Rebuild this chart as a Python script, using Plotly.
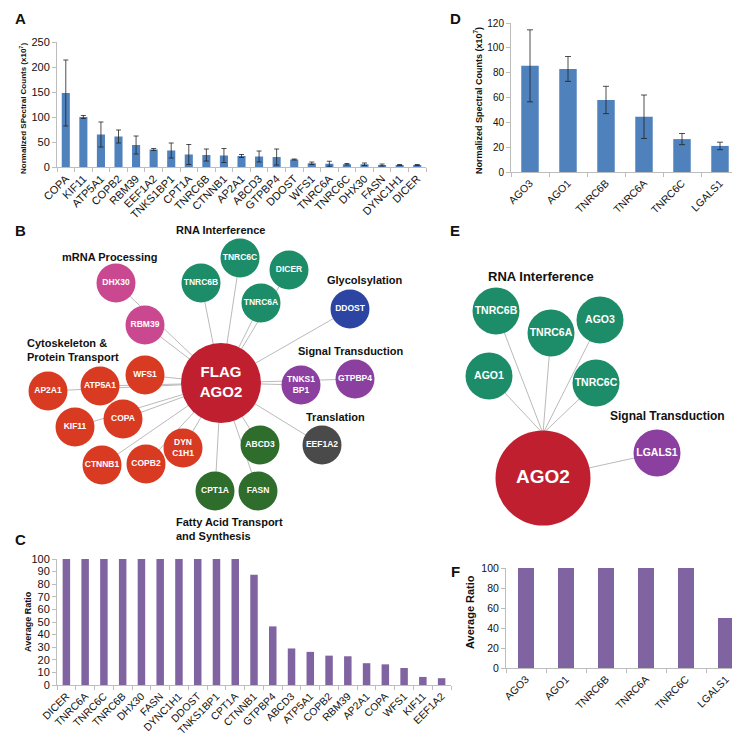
import plotly.graph_objects as go

W = H = 740
FONT = "Liberation Sans"

# ---------------- Panel A data ----------------
a_genes = ["COPA", "KIF11", "ATP5A1", "COPB2", "RBM39", "EEF1A2", "TNKS1BP1", "CPT1A",
           "TNRC6B", "CTNNB1", "AP2A1", "ABCD3", "GTPBP4", "DDOST", "WFS1", "TNRC6A",
           "TNRC6C", "DHX30", "FASN", "DYNC1H1", "DICER"]
a_counts = [148, 100, 65, 61, 44, 35, 33, 25, 24, 23, 22, 21, 20, 15, 7.5, 6.5, 5.5, 5.5, 4, 4, 4]
a_err = [66, 3, 25, 13, 18, 2, 15, 20, 12, 14, 3, 11, 16, 1, 2.5, 5, 1.5, 2.5, 2, 1, 1]
a_ticks = [0, 50, 100, 150, 200, 250]

# ---------------- Panel D data ----------------
d_genes = ["AGO3", "AGO1", "TNRC6B", "TNRC6A", "TNRC6C", "LGALS1"]
d_counts = [85.5, 83, 58, 44.5, 26.5, 21]
d_err = [29, 10, 11, 17.5, 4.5, 3]
d_ticks = [0, 20, 40, 60, 80, 100, 120]

# ---------------- Panel C data ----------------
c_genes = ["DICER", "TNRC6A", "TNRC6C", "TNRC6B", "DHX30", "FASN", "DYNC1H1", "DDOST",
           "TNKS1BP1", "CPT1A", "CTNNB1", "GTPBP4", "ABCD3", "ATP5A1", "COPB2", "RBM39",
           "AP2A1", "COPA", "WFS1", "KIF11", "EEF1A2"]
c_ratio = [100, 100, 100, 100, 100, 100, 100, 100, 100, 100, 87.5, 46.5, 29, 26.3, 23.3,
           22.8, 17.3, 16.4, 13.5, 6.4, 5.4]
c_ticks = [0, 10, 20, 30, 40, 50, 60, 70, 80, 90, 100]

# ---------------- Panel F data ----------------
f_genes = ["AGO3", "AGO1", "TNRC6B", "TNRC6A", "TNRC6C", "LGALS1"]
f_ratio = [100, 100, 100, 100, 100, 50]
f_ticks = [0, 20, 40, 60, 80, 100]

# ---------------- Panel B network ----------------
b_names = ["FLAG<br>AGO2", "DHX30", "RBM39", "TNRC6B", "TNRC6C", "DICER", "TNRC6A", "DDOST",
           "TNKS1<br>BP1", "GTPBP4", "EEF1A2", "ABCD3", "FASN", "CPT1A", "DYN<br>C1H1",
           "COPB2", "CTNNB1", "KIF11", "COPA", "AP2A1", "ATP5A1", "WFS1"]
b_x = [213, 108, 137, 193, 232, 281, 253, 342, 293, 347, 314, 252, 250, 207, 175,
       138, 94, 67, 115, 40, 92, 137]
b_y = [375, 275, 317, 275, 250, 262, 295, 301, 377, 371, 437, 437, 483, 483, 440,
       456, 457, 419, 411, 383, 378, 367]
b_group = ["hub", "mrna", "mrna", "rnai", "rnai", "rnai", "rnai", "glyco", "signal", "signal",
           "transl", "fatty", "fatty", "fatty", "cyto", "cyto", "cyto", "cyto", "cyto", "cyto",
           "cyto", "cyto"]
b_edges = [("DHX30", "FLAG<br>AGO2"), ("RBM39", "FLAG<br>AGO2"), ("TNRC6B", "FLAG<br>AGO2"),
           ("TNRC6C", "FLAG<br>AGO2"), ("DICER", "FLAG<br>AGO2"), ("TNRC6A", "FLAG<br>AGO2"),
           ("DDOST", "FLAG<br>AGO2"), ("TNKS1<br>BP1", "FLAG<br>AGO2"), ("GTPBP4", "FLAG<br>AGO2"),
           ("EEF1A2", "FLAG<br>AGO2"), ("ABCD3", "FLAG<br>AGO2"), ("FASN", "FLAG<br>AGO2"),
           ("CPT1A", "FLAG<br>AGO2"), ("DYN<br>C1H1", "FLAG<br>AGO2"), ("COPB2", "FLAG<br>AGO2"),
           ("CTNNB1", "FLAG<br>AGO2"), ("KIF11", "FLAG<br>AGO2"), ("COPA", "FLAG<br>AGO2"),
           ("AP2A1", "FLAG<br>AGO2"), ("ATP5A1", "FLAG<br>AGO2"), ("WFS1", "FLAG<br>AGO2")]

# ---------------- Panel E network ----------------
e_names = ["AGO2", "TNRC6B", "TNRC6A", "AGO3", "AGO1", "TNRC6C", "LGALS1"]
e_x = [535, 488, 543, 592, 481, 588, 649]
e_y = [470, 303, 325, 312, 368, 375, 445]
e_group = ["hub", "rnai", "rnai", "rnai", "rnai", "rnai", "signal"]

colors = {"hub": "#c01f30", "mrna": "#c9488f", "rnai": "#1d8c68", "glyco": "#2c45a3",
          "signal": "#8b3f9f", "transl": "#4a4a4a", "fatty": "#2f6d2c", "cyto": "#d83b22"}

BLUE = "#4f81bd"
PURPLE = "#8064a2"
AXC = "#bdbdbd"


def px(v):
    return v / W


def py(v):
    return 1 - v / H


fig = go.Figure()

# Bars
fig.add_trace(go.Bar(x=a_genes, y=a_counts, marker=dict(color=BLUE, line=dict(width=0)), width=0.46,
                     error_y=dict(type="data", array=a_err, color="#222", thickness=0.8, width=2.5),
                     xaxis="x", yaxis="y", showlegend=False))
fig.add_trace(go.Bar(x=d_genes, y=d_counts, marker=dict(color=BLUE, line=dict(width=0)), width=0.46,
                     error_y=dict(type="data", array=d_err, color="#222", thickness=0.8, width=3),
                     xaxis="x2", yaxis="y2", showlegend=False))
fig.add_trace(go.Bar(x=c_genes, y=c_ratio, marker=dict(color=PURPLE, line=dict(width=0)), width=0.4,
                     xaxis="x3", yaxis="y3", showlegend=False))
fig.add_trace(go.Bar(x=f_genes, y=f_ratio, marker=dict(color=PURPLE, line=dict(width=0)), width=0.4,
                     xaxis="x4", yaxis="y4", showlegend=False))

# Network B edges
idx = {n: i for i, n in enumerate(b_names)}
ex, ey = [], []
for s, t in b_edges:
    ex += [b_x[idx[s]], b_x[idx[t]], None]
    ey += [b_y[idx[s]], b_y[idx[t]], None]
fig.add_trace(go.Scatter(x=ex, y=ey, mode="lines", line=dict(color="#a8a8a8", width=0.8),
                         xaxis="x5", yaxis="y5", showlegend=False, hoverinfo="skip"))
b_sizes = [80 if g == "hub" else 39 for g in b_group]
b_fs = [15 if g == "hub" else 8.5 for g in b_group]
fig.add_trace(go.Scatter(x=b_x, y=b_y, mode="markers+text",
                         marker=dict(size=b_sizes, color=[colors[g] for g in b_group],
                                     opacity=1, line=dict(width=0)),
                         text=["<b>%s</b>" % n for n in b_names], textposition="middle center",
                         textfont=dict(family=FONT, color="white", size=b_fs),
                         xaxis="x5", yaxis="y5", showlegend=False, hoverinfo="skip"))

# Network E edges
hub_r = 47.5
ex, ey = [], []
for i, g in enumerate(e_group):
    if g == "rnai":
        ex += [e_x[i], e_x[0], None]
        ey += [e_y[i], e_y[0] - hub_r + 3, None]
    elif g == "signal":
        ex += [e_x[i], e_x[0], None]
        ey += [e_y[i], e_y[0], None]
fig.add_trace(go.Scatter(x=ex, y=ey, mode="lines", line=dict(color="#a8a8a8", width=0.8),
                         xaxis="x5", yaxis="y5", showlegend=False, hoverinfo="skip"))
e_sizes = [95 if g == "hub" else 47 for g in e_group]
e_fs = [19 if g == "hub" else 10.5 for g in e_group]
fig.add_trace(go.Scatter(x=e_x, y=e_y, mode="markers+text",
                         marker=dict(size=e_sizes, color=[colors[g] for g in e_group],
                                     opacity=1, line=dict(width=0)),
                         text=["<b>%s</b>" % n for n in e_names], textposition="middle center",
                         textfont=dict(family=FONT, color="white", size=e_fs),
                         xaxis="x5", yaxis="y5", showlegend=False, hoverinfo="skip"))


def xax(x0, x1, anchor, fs):
    return dict(domain=[px(x0), px(x1)], anchor=anchor, type="category", showline=True,
                linecolor=AXC, linewidth=1, ticks="outside", tickson="boundaries", ticklen=4,
                tickcolor=AXC, tickangle=-45, showgrid=False, zeroline=False, automargin=False,
                tickfont=dict(family=FONT, size=fs, color="#111"))


def yax(y0, y1, anchor, rng, tv, fs):
    return dict(domain=[py(y0), py(y1)], anchor=anchor, range=rng, tickvals=tv, showline=True,
                linecolor=AXC, linewidth=1, ticks="outside", ticklen=4, tickcolor=AXC,
                showgrid=False, zeroline=False, automargin=False,
                tickfont=dict(family=FONT, size=fs, color="#111"))


annots = []


def ann(x, y, text, size, bold=True, xanchor="center", yanchor="middle", angle=0, align="center"):
    annots.append(dict(x=px(x), y=py(y), xref="paper", yref="paper", showarrow=False,
                       text=("<b>%s</b>" % text) if bold else text, textangle=angle,
                       xanchor=xanchor, yanchor=yanchor, align=align,
                       font=dict(family=FONT, size=size, color="#111")))


# Panel letters
ann(12, 11, "A", 15)
ann(12, 223, "B", 15)
ann(12, 531, "C", 15)
ann(447, 11, "D", 15)
ann(447, 223, "E", 15)
ann(447, 563, "F", 15)

# Axis titles
ann(15, 100, "Normalized SPectral Counts (x10<sup>7</sup>)", 8, angle=-90)
ann(470, 92, "Normalized Spectral Counts (x10<sup>7</sup>)", 9, angle=-90)
ann(20, 614, "Average Ratio", 9, angle=-90)
ann(462, 604, "Average Ratio", 11, angle=-90)

# Network group labels (B)
ann(212, 222, "RNA Interference", 11)
ann(102, 249, "mRNA Processing", 11)
ann(317, 272, "Glycolsylation", 11, xanchor="left")
ann(17, 342, "Cytoskeleton &<br>Protein Transport", 11, xanchor="left", align="left")
ann(288, 343, "Signal Transduction", 11, xanchor="left")
ann(296, 409, "Translation", 11, xanchor="left")
ann(166, 521, "Fatty Acid Transport<br>and Synthesis", 11, xanchor="left", align="left")

# Network group labels (E)
ann(533, 268, "RNA Interference", 13)
ann(600, 408, "Signal Transduction", 12, xanchor="left")

fig.update_layout(
    width=W, height=H, autosize=False,
    margin=dict(l=0, r=0, t=0, b=0),
    paper_bgcolor="white", plot_bgcolor="rgba(0,0,0,0)",
    showlegend=False,
    xaxis=xax(49, 418, "y", 11),
    yaxis=yax(159, 34, "x", [0, 250], a_ticks, 11),
    xaxis2=xax(503, 731, "y2", 10.5),
    yaxis2=yax(164, 15, "x2", [0, 120], d_ticks, 10),
    xaxis3=xax(49, 443, "y3", 10.5),
    yaxis3=yax(677, 551, "x3", [0, 100], c_ticks, 11),
    xaxis4=xax(498, 738, "y4", 10.5),
    yaxis4=yax(660, 560, "x4", [0, 100], f_ticks, 10.5),
    xaxis5=dict(domain=[0, 1], anchor="y5", range=[0, W], visible=False, fixedrange=True),
    yaxis5=dict(domain=[0, 1], anchor="x5", range=[H, 0], visible=False, fixedrange=True),
    annotations=annots,
)

fig.write_html("out.html")
